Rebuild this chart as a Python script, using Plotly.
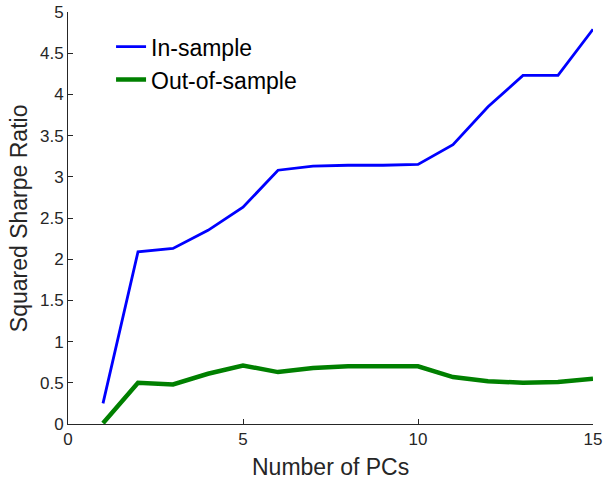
import plotly.graph_objects as go

num_pcs = list(range(1, 16))
in_sample = [0.25, 2.09, 2.13, 2.35, 2.63, 3.08, 3.13, 3.14, 3.14, 3.15, 3.39, 3.85, 4.23, 4.23, 4.79]
out_of_sample = [0.01, 0.50, 0.48, 0.61, 0.71, 0.63, 0.68, 0.70, 0.70, 0.70, 0.57, 0.52, 0.50, 0.51, 0.55]
x_ticks = [0, 5, 10, 15]
y_ticks = [0, 0.5, 1, 1.5, 2, 2.5, 3, 3.5, 4, 4.5, 5]
y_tick_labels = ["0", "0.5", "1", "1.5", "2", "2.5", "3", "3.5", "4", "4.5", "5"]

FONT = "Liberation Sans, Arial, sans-serif"
TXT = "#262626"

fig = go.Figure()
fig.add_trace(go.Scatter(x=num_pcs, y=in_sample, mode="lines", name="In-sample",
                         line=dict(color="#0000ff", width=2.8)))
fig.add_trace(go.Scatter(x=num_pcs, y=out_of_sample, mode="lines", name="Out-of-sample",
                         line=dict(color="#008000", width=4.5)))

axis_common = dict(showgrid=False, zeroline=False, showline=True, linecolor=TXT,
                   linewidth=1, ticks="inside", ticklen=5, tickcolor=TXT,
                   tickfont=dict(family=FONT, size=17, color=TXT),
                   mirror=False, automargin=False, ticklabeloverflow="allow")

fig.update_layout(
    width=605, height=482,
    margin=dict(l=68, r=12, t=12, b=58, autoexpand=False),
    paper_bgcolor="white", plot_bgcolor="white",
    font=dict(family=FONT, color=TXT),
    xaxis=dict(range=[0, 15], tickvals=x_ticks, ticktext=[str(v) for v in x_ticks], **axis_common),
    yaxis=dict(range=[0, 5], tickvals=y_ticks, ticktext=y_tick_labels, **axis_common),
    legend=dict(x=0.082, y=0.968, xanchor="left", yanchor="top", bgcolor="rgba(0,0,0,0)",
                font=dict(family=FONT, size=23, color="black"), itemwidth=30, tracegroupgap=0),
    showlegend=True,
    annotations=[
        dict(text="Number of PCs", xref="paper", yref="paper", x=0.5, y=-0.104,
             xanchor="center", yanchor="middle", showarrow=False,
             font=dict(family=FONT, size=23, color=TXT)),
        dict(text="Squared Sharpe Ratio", xref="paper", yref="paper", x=-0.093, y=0.5,
             xanchor="center", yanchor="middle", textangle=-90, showarrow=False,
             font=dict(family=FONT, size=23, color=TXT)),
    ],
)

fig.write_html("out.html",
               config={"displayModeBar": False},
               post_script="document.body.style.margin='0';document.body.style.overflow='hidden';")
